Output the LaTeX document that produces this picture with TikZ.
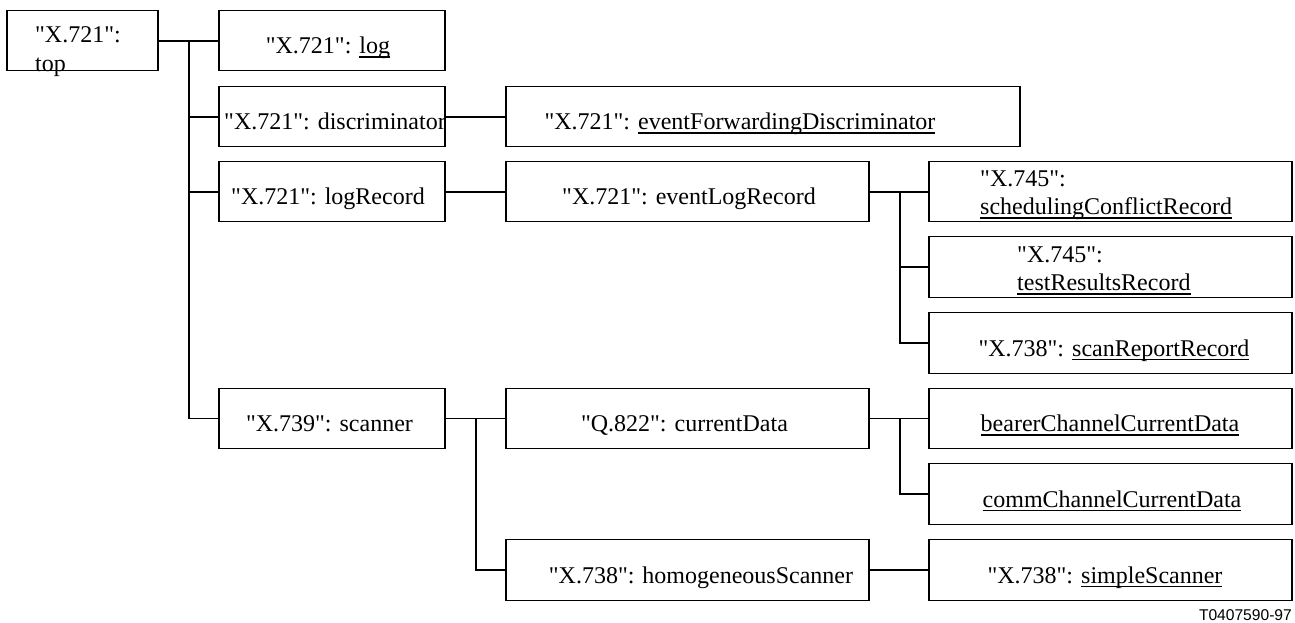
\documentclass[tikz,border=0pt]{standalone}
\usepackage{fontspec}
\setmainfont{Liberation Serif}[Ligatures=TeXOff]
\newfontfamily\tagfont{Liberation Sans}
\usetikzlibrary{calc}

% underline that runs through descenders at a fixed depth
\newcommand\ulbar[1]{\setbox0=\hbox{#1}\rlap{\rule[-4pt]{\wd0}{1.5pt}}\box0}
% two stacked lines, baseline of the box = baseline of the last line
\newcommand\twoline[2]{\vbox{\baselineskip=28.5pt\hbox{#1}\hbox{#2}}}

\begin{document}
\begin{tikzpicture}[x=1pt,y=-1pt,
  box/.style={draw, line width=1.1pt, rectangle, inner sep=0pt, minimum height=60.5pt},
  lbl/.style={anchor=base, inner sep=0pt, font=\fontsize{24}{28.5}\selectfont},
  lbltwo/.style={anchor=base west, inner sep=0pt, font=\fontsize{24}{28.5}\selectfont},
  hlink/.style={line width=2pt},
  vlink/.style={line width=1.2pt}]
\useasboundingbox[fill=white] (0,0) rectangle (1295,622);

% ---- boxes ----
\node[box, minimum width=151pt] (top)     at (82.5,40.5)  {};
\node[box, minimum width=226pt] (log)     at (332,40.5)   {};
\node[box, minimum width=226pt] (disc)    at (332,116.5)  {};
\node[box, minimum width=226pt] (logrec)  at (332,191.5)  {};
\node[box, minimum width=226pt] (scanner) at (332,418.5)  {};
\node[box, minimum width=514pt] (evfwd)   at (763,116.5)  {};
\node[box, minimum width=363pt] (evlog)   at (687.5,191.5){};
\node[box, minimum width=363pt] (curdata) at (687.5,418.5){};
\node[box, minimum width=363pt] (homog)   at (687.5,570)  {};
\node[box, minimum width=363pt] (sched)   at (1110.5,191.5){};
\node[box, minimum width=363pt] (test)    at (1110.5,267) {};
\node[box, minimum width=363pt] (scanrep) at (1110.5,343) {};
\node[box, minimum width=363pt] (bearer)  at (1110.5,418.5){};
\node[box, minimum width=363pt] (comm)    at (1110.5,494) {};
\node[box, minimum width=363pt] (simple)  at (1110.5,570) {};

% ---- texts ----
\node[lbltwo] (ttop)   at (35,71)     {\twoline{"X.721":}{top}};
\node[lbl] (tlog)      at (328,53.5)  {"X.721": \ulbar{log}};
\node[lbl] (tdisc)     at (335,129.5) {"X.721": discriminator};
\node[lbl] (tlogrec)   at (328,204.5) {"X.721": logRecord};
\node[lbl] (tscanner)  at (329.5,431.5) {"X.739": scanner};
\node[lbl] (tevfwd)    at (740,129.5) {"X.721": \ulbar{eventForwardingDiscriminator}};
\node[lbl] (tevlog)    at (689,204.5) {"X.721": eventLogRecord};
\node[lbl] (tcurdata)  at (684.5,431.5) {"Q.822": currentData};
\node[lbl] (thomog)    at (701,583)   {"X.738": homogeneousScanner};
\node[lbltwo] (tsched) at (980,214.5) {\twoline{"X.745":}{\ulbar{schedulingConflictRecord}}};
\node[lbltwo] (ttest)  at (1017,290.5) {\twoline{"X.745":}{\ulbar{testResultsRecord}}};
\node[lbl] (tscanrep)  at (1114,356)  {"X.738": \ulbar{scanReportRecord}};
\node[lbl] (tbearer)   at (1110,431.5) {\ulbar{bearerChannelCurrentData}};
\node[lbl] (tcomm)     at (1112,507)  {\ulbar{commChannelCurrentData}};
\node[lbl] (tsimple)   at (1105,583)  {"X.738": \ulbar{simpleScanner}};

\node[anchor=base east, inner sep=0pt, font=\tagfont\fontsize{15.6}{18}\selectfont] (tag) at (1292,620) {T0407590-97};

% ---- connectors ----
\coordinate (j1) at (189,40.5);
\coordinate (j2) at (900,191.5);
\coordinate (j3) at (476,418.5);
\coordinate (j4) at (900,418.5);

\draw[hlink] (top.east) -- (log.west);
\draw[vlink] (j1) |- (scanner.west);
\draw[hlink] (disc.west) -- (disc.west -| j1);
\draw[hlink] (logrec.west) -- (logrec.west -| j1);
\draw[hlink] (disc.east) -- (evfwd.west);
\draw[hlink] (logrec.east) -- (evlog.west);

\draw[hlink] (evlog.east) -- (sched.west);
\draw[vlink] (j2) |- (scanrep.west);
\draw[vlink] (test.west) -- (test.west -| j2);

\draw[vlink] (scanner.east) -- (curdata.west);
\draw[vlink] (j3) |- (homog.west);

\draw[vlink] (curdata.east) -- (bearer.west);
\draw[vlink] (j4) |- (comm.west);

\draw[vlink] (homog.east) -- (simple.west);
\end{tikzpicture}
\end{document}
